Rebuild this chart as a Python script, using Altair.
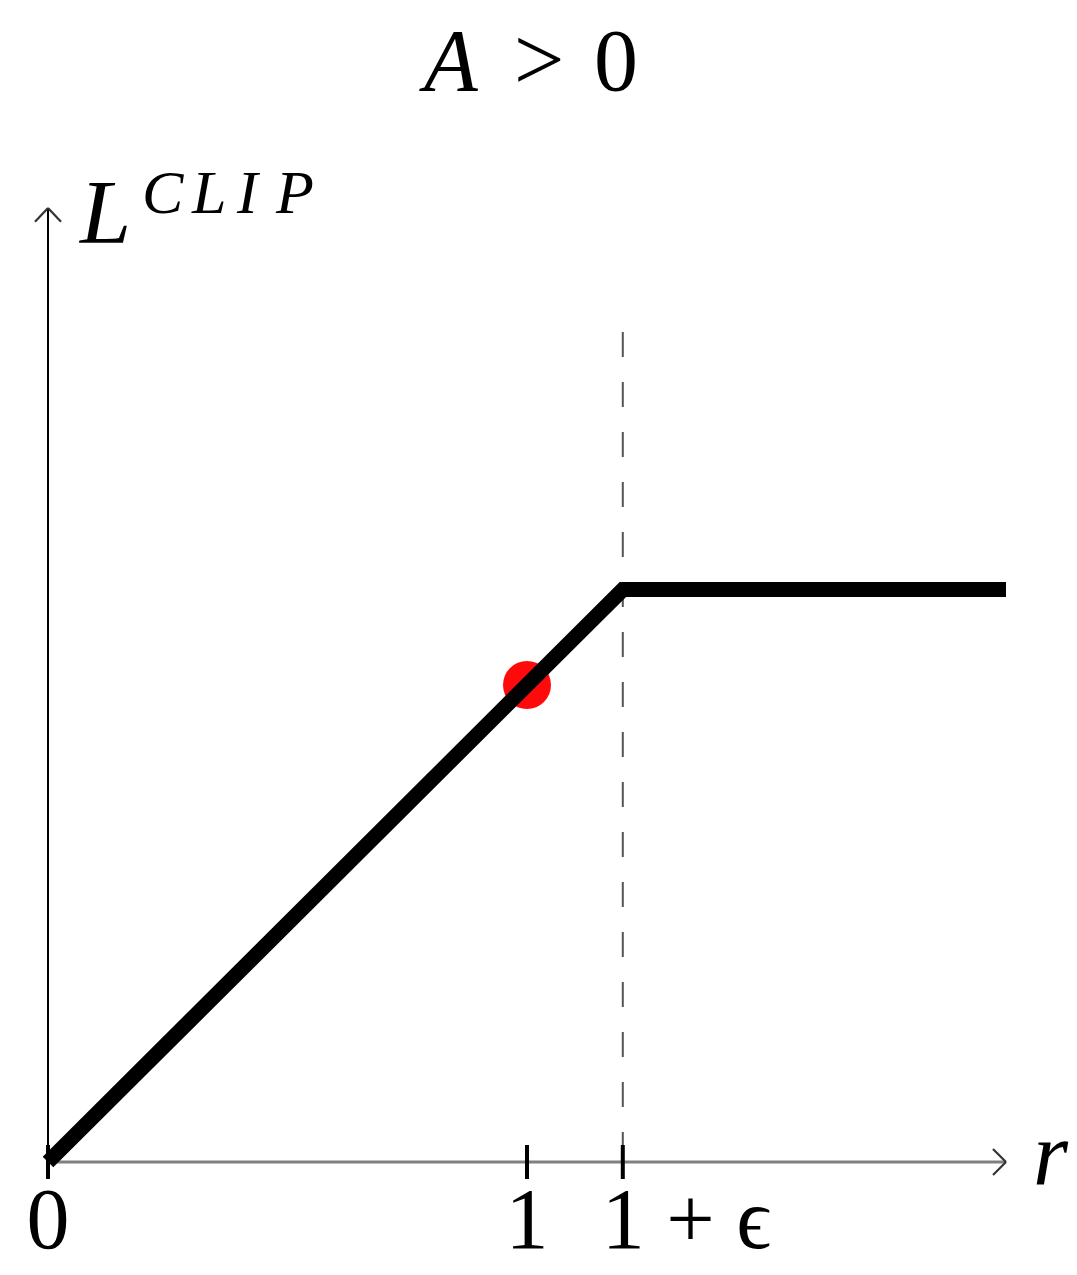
import altair as alt
import pandas as pd

# ---- data ----
EPS = 0.2
curve_r = [0.0, 1.0 + EPS, 2.0]
curve_L = [0.0, 1.0 + EPS, 1.0 + EPS]
point_r = [1.0]
point_L = [1.0]
tick_r = [0.0, 1.0, 1.0 + EPS]
tick_labels = ["0", "1", "1 + ϵ"]
axis_end_r = 2.0
axis_end_L = 2.0
dash_top_L = 1.74

# ---- layout (pixels) ----
W, H = 1061, 1259
PX_X = 479.0   # pixels per unit of r
PX_Y = 477.0   # pixels per unit of L
X0, Y0 = 40.0, 1154.0  # chart-pixel position of the origin

x_dom = [-X0 / PX_X, (W - X0) / PX_X]
y_dom = [-(H - Y0) / PX_Y, Y0 / PX_Y]

xs = alt.Scale(domain=x_dom, nice=False, zero=False)
ys = alt.Scale(domain=y_dom, nice=False, zero=False)


def X(field):
    return alt.X(field, type="quantitative", scale=xs, axis=None)


def Y(field):
    return alt.Y(field, type="quantitative", scale=ys, axis=None)


def pr(page_x):
    return (page_x - 8 - X0) / PX_X


def pl(page_y):
    return (Y0 - (page_y - 8)) / PX_Y


curve_df = pd.DataFrame({"r": curve_r, "L": curve_L, "o": list(range(len(curve_r)))})
point_df = pd.DataFrame({"r": point_r, "L": point_L})

ax = 13 / PX_X
ay = 13 / PX_Y
seg_axes = pd.DataFrame({
    "r0": [0.0, 0.0],
    "r1": [axis_end_r, 0.0],
    "L0": [0.0, 0.0],
    "L1": [0.0, axis_end_L],
    "c": ["x", "y"],
})
arrows_df = pd.DataFrame({
    "r0": [axis_end_r, axis_end_r, 0.0, 0.0],
    "r1": [axis_end_r - ax, axis_end_r - ax, -ax, ax],
    "L0": [0.0, 0.0, axis_end_L, axis_end_L],
    "L1": [ay, -ay, axis_end_L - ay * 1.05, axis_end_L - ay * 1.05],
})
th = 17 / PX_Y
ticks_df = pd.DataFrame({"r": tick_r, "lo": [-th] * 3, "hi": [th] * 3})
dash_df = pd.DataFrame({"r": [1.0 + EPS], "top": [dash_top_L], "bot": [0.0]})

FONT = "Liberation Serif"
FS = 90
TICK_FS = 86

x_axis = alt.Chart(seg_axes[seg_axes.c == "x"]).mark_rule(color="#808080", strokeWidth=3).encode(
    x=X("r0"), x2="r1", y=Y("L0"), y2="L1")
y_axis = alt.Chart(seg_axes[seg_axes.c == "y"]).mark_rule(color="#000000", strokeWidth=2).encode(
    x=X("r0"), x2="r1", y=Y("L0"), y2="L1")
arrows = alt.Chart(arrows_df).mark_rule(color="#333333", strokeWidth=2.2).encode(
    x=X("r0"), x2="r1", y=Y("L0"), y2="L1")
dash = alt.Chart(dash_df).mark_rule(color="#555555", strokeWidth=2, strokeDash=[25, 25]).encode(
    x=X("r"), y=Y("top"), y2="bot")
ticks = alt.Chart(ticks_df).mark_rule(color="#000000", strokeWidth=4).encode(
    x=X("r"), y=Y("lo"), y2="hi")
dot = alt.Chart(point_df).mark_circle(color="#ff0a0a", opacity=1, size=2300).encode(
    x=X("r"), y=Y("L"))
curve = alt.Chart(curve_df).mark_line(color="#000000", strokeWidth=15, strokeCap="butt",
                                      strokeJoin="miter").encode(
    x=X("r"), y=Y("L"), order="o:Q")

lab_df = pd.DataFrame({"r": tick_r, "t": tick_labels, "L": [pl(1248)] * 3})
labels_c = alt.Chart(lab_df.iloc[:2]).mark_text(font=FONT, fontSize=TICK_FS, baseline="alphabetic",
                                                align="center", color="#000").encode(
    x=X("r"), y=Y("L"), text="t:N")
labels_l = alt.Chart(lab_df.iloc[2:]).mark_text(font=FONT, fontSize=TICK_FS, baseline="alphabetic",
                                                align="left", dx=-21, color="#000").encode(
    x=X("r"), y=Y("L"), text="t:N")


def txt(s, page_x, page_y, size=FS, italic=False, align="left"):
    d = pd.DataFrame({"r": [pr(page_x)], "L": [pl(page_y)], "t": [s]})
    kw = dict(font=FONT, fontSize=size, baseline="alphabetic", align=align, color="#000")
    if italic:
        kw["fontStyle"] = "italic"
    return alt.Chart(d).mark_text(**kw).encode(x=X("r"), y=Y("L"), text="t:N")


title_A = txt("A", 424, 90, size=88, italic=True)
title_gt = txt(">", 539, 90, size=90, align="center")
title_0 = txt("0", 616, 90, size=88, align="center")
ylab_L = txt("L", 80, 243, size=92, italic=True)
sup_C = txt("C", 142, 213, size=62, italic=True)
sup_L = txt("L", 192, 213, size=62, italic=True)
sup_I = txt("I", 237, 213, size=62, italic=True)
sup_P = txt("P", 276, 213, size=62, italic=True)
xlab_r = txt("r", 1033, 1184, size=90, italic=True)

chart = alt.layer(
    dot, dash, x_axis, y_axis, arrows, ticks, curve,
    labels_c, labels_l, title_A, title_gt, title_0, ylab_L,
    sup_C, sup_L, sup_I, sup_P, xlab_r,
).properties(
    width=W, height=H, padding=0,
    autosize=alt.AutoSizeParams(type="none"),
    background="#ffffff",
).configure_view(stroke=None)

chart.save("out.html", embed_options={"renderer": "svg", "actions": False})
